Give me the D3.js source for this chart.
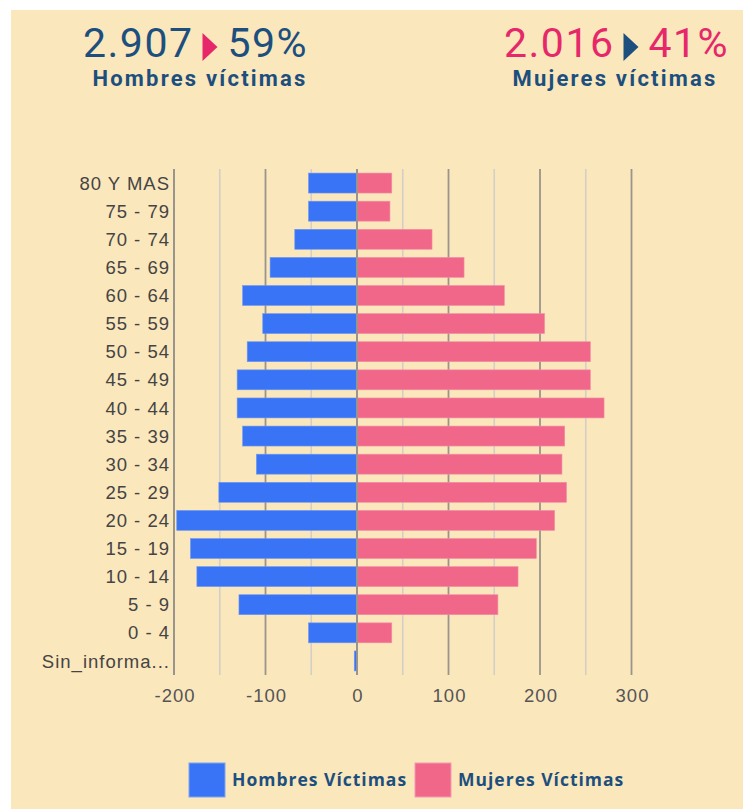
<!DOCTYPE html>
<html>
<head>
    <title>Víctimas por edad y sexo</title>
    <script src="https://d3js.org/d3.v7.min.js"></script>
    <style>
        body {
            margin: 0;
            padding: 0;
            background-color: #fff;
        }
        svg {
            display: block;
        }
        .cat-label {
            fill: #444;
            font-family: "Liberation Sans", Arial, sans-serif;
            font-size: 18.5px;
            letter-spacing: 1px;
        }
        .tick-label {
            fill: #555;
            font-family: "Liberation Sans", Arial, sans-serif;
            font-size: 18.5px;
            letter-spacing: 1px;
        }
        .big-num {
            font-family: Roboto, sans-serif;
            font-weight: 400;
            font-size: 41px;
            letter-spacing: 1.5px;
        }
        .sub-head {
            fill: #1d4f7e;
            font-family: Roboto, sans-serif;
            font-weight: 700;
            font-size: 22px;
            letter-spacing: 2.2px;
        }
        .legend-text {
            fill: #1d4f7e;
            font-family: "Open Sans", sans-serif;
            font-weight: 700;
            font-size: 17.5px;
            letter-spacing: 1px;
        }
    </style>
</head>
<body>
    <svg id="chart"></svg>
    <script>
        // age groups, top to bottom
        const ageGroups = ['80 Y MAS', '75 - 79', '70 - 74', '65 - 69', '60 - 64', '55 - 59',
            '50 - 54', '45 - 49', '40 - 44', '35 - 39', '30 - 34', '25 - 29', '20 - 24',
            '15 - 19', '10 - 14', '5 - 9', '0 - 4', 'Sin_informa...'];
        const hombres = [53, 53, 68, 95, 125, 103, 120, 131, 131, 125, 110, 151, 197, 182, 175, 129, 53, 3];
        const mujeres = [38, 36, 82, 117, 161, 205, 255, 255, 270, 227, 224, 229, 216, 196, 176, 154, 38, 0];
        const majorTicks = [-200, -100, 0, 100, 200, 300];
        const minorTicks = [-150, -50, 50, 150, 250];
        const seriesNames = ['Hombres Víctimas', 'Mujeres Víctimas'];

        const W = 743, H = 809;
        const blue = '#3a74f6', pink = '#f16789';
        const navy = '#1d4f7e', rose = '#e6286a';

        const svg = d3.select('#chart').attr('width', W).attr('height', H);

        // beige panel (small white strip top/left like the screenshot)
        svg.append('rect')
            .attr('x', 11).attr('y', 10)
            .attr('width', W - 11).attr('height', H - 10)
            .attr('fill', '#fbe7bc');

        // header: number, arrow, percentage
        function header(g, num, numColor, arrowColor, pct) {
            const t = g.append('text').attr('class', 'big-num')
                .attr('y', 57).attr('fill', numColor).text(num);
            const numW = t.node().getComputedTextLength();
            g.append('path')
                .attr('d', `M${numW + 9},33 L${numW + 24},47 L${numW + 9},61 Z`)
                .attr('fill', arrowColor);
            g.append('text').attr('class', 'big-num')
                .attr('x', numW + 34).attr('y', 57)
                .attr('fill', numColor).text(pct);
        }
        header(svg.append('g').attr('transform', 'translate(83,0)'), '2.907', navy, rose, '59%');
        header(svg.append('g').attr('transform', 'translate(504,0)'), '2.016', rose, navy, '41%');
        svg.append('text').attr('class', 'sub-head')
            .attr('x', 200).attr('y', 86).attr('text-anchor', 'middle')
            .text('Hombres víctimas');
        svg.append('text').attr('class', 'sub-head')
            .attr('x', 615).attr('y', 86).attr('text-anchor', 'middle')
            .text('Mujeres víctimas');

        // scales
        const plotTop = 169, plotBottom = 675;
        const x = d3.scaleLinear().domain([-200, 300]).range([174, 631.5]);
        const y = d3.scaleBand().domain(ageGroups).range([plotTop, plotBottom])
            .paddingInner(0.29).paddingOuter(0.145);

        // grid
        svg.selectAll('.minor')
            .data(minorTicks)
            .enter()
            .append('line')
            .attr('x1', d => x(d)).attr('x2', d => x(d))
            .attr('y1', plotTop).attr('y2', plotBottom)
            .attr('stroke', '#d2cfc6').attr('stroke-width', 1.6);
        svg.selectAll('.major')
            .data(majorTicks)
            .enter()
            .append('line')
            .attr('x1', d => x(d)).attr('x2', d => x(d))
            .attr('y1', plotTop).attr('y2', plotBottom)
            .attr('stroke', '#99958c').attr('stroke-width', 1.8);

        // bars
        svg.selectAll('.bar-h')
            .data(ageGroups)
            .enter()
            .append('rect')
            .attr('x', (d, i) => x(-hombres[i]))
            .attr('width', (d, i) => x(0) - x(-hombres[i]))
            .attr('y', d => y(d))
            .attr('height', y.bandwidth())
            .attr('fill', blue)
            .attr('stroke', '#6f98f0').attr('stroke-width', 0.6);
        svg.selectAll('.bar-m')
            .data(ageGroups)
            .enter()
            .append('rect')
            .attr('x', x(0))
            .attr('width', (d, i) => x(mujeres[i]) - x(0))
            .attr('y', d => y(d))
            .attr('height', y.bandwidth())
            .attr('fill', pink)
            .attr('stroke', '#f48ea7').attr('stroke-width', 0.6);

        // zero line and left axis on top
        [-200, 0].forEach(v => {
            svg.append('line')
                .attr('x1', x(v)).attr('x2', x(v))
                .attr('y1', plotTop).attr('y2', plotBottom)
                .attr('stroke', '#99958c').attr('stroke-width', 1.8);
        });

        // category labels
        svg.selectAll('.cat-label')
            .data(ageGroups)
            .enter()
            .append('text')
            .attr('class', 'cat-label')
            .attr('x', 170)
            .attr('y', d => y(d) + y.bandwidth() / 2)
            .attr('dy', '0.36em')
            .attr('text-anchor', 'end')
            .text(d => d);

        // x tick labels
        svg.selectAll('.tick-label')
            .data(majorTicks)
            .enter()
            .append('text')
            .attr('class', 'tick-label')
            .attr('x', d => x(d) + 1)
            .attr('y', 702)
            .attr('text-anchor', 'middle')
            .text(d => d);

        // legend
        const legend = [
            { name: seriesNames[0], color: blue, stroke: '#7fa3f3', x: 189 },
            { name: seriesNames[1], color: pink, stroke: '#f59ab0', x: 415 }
        ];
        legend.forEach(l => {
            svg.append('rect')
                .attr('x', l.x).attr('y', 763)
                .attr('width', 36).attr('height', 34)
                .attr('fill', l.color)
                .attr('stroke', l.stroke).attr('stroke-width', 1);
            svg.append('text')
                .attr('class', 'legend-text')
                .attr('x', l.x + 43).attr('y', 786)
                .text(l.name);
        });
    </script>
</body>
</html>
